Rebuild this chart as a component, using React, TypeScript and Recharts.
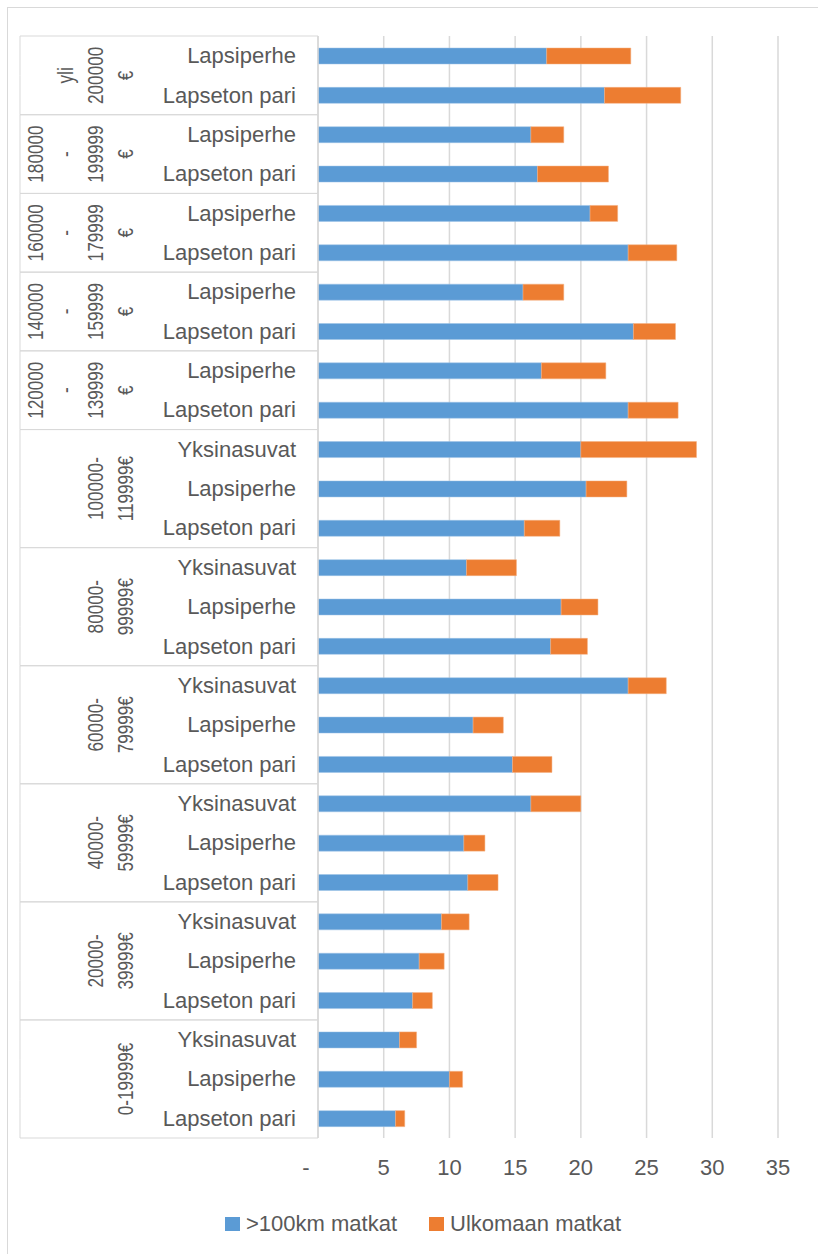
import React from 'react';
import { BarChart, Bar, XAxis, YAxis, CartesianGrid, Legend } from 'recharts';

// income groups, top to bottom, with the way the label wraps
const groupLines = [
  ['yli', '200000', '€'],
  ['180000', '-', '199999', '€'],
  ['160000', '-', '179999', '€'],
  ['140000', '-', '159999', '€'],
  ['120000', '-', '139999', '€'],
  ['100000-', '119999€'],
  ['80000-', '99999€'],
  ['60000-', '79999€'],
  ['40000-', '59999€'],
  ['20000-', '39999€'],
  ['0-19999€'],
];
const groupSizes = [2, 2, 2, 2, 2, 3, 3, 3, 3, 3, 3];

const subLabels = [
  'Lapsiperhe', 'Lapseton pari',
  'Lapsiperhe', 'Lapseton pari',
  'Lapsiperhe', 'Lapseton pari',
  'Lapsiperhe', 'Lapseton pari',
  'Lapsiperhe', 'Lapseton pari',
  'Yksinasuvat', 'Lapsiperhe', 'Lapseton pari',
  'Yksinasuvat', 'Lapsiperhe', 'Lapseton pari',
  'Yksinasuvat', 'Lapsiperhe', 'Lapseton pari',
  'Yksinasuvat', 'Lapsiperhe', 'Lapseton pari',
  'Yksinasuvat', 'Lapsiperhe', 'Lapseton pari',
  'Yksinasuvat', 'Lapsiperhe', 'Lapseton pari',
];

const longTrips = [
  17.4, 21.8, 16.2, 16.7, 20.7, 23.6, 15.6, 24.0, 17.0, 23.6,
  20.0, 20.4, 15.7, 11.3, 18.5, 17.7, 23.6, 11.8, 14.8,
  16.2, 11.1, 11.4, 9.4, 7.7, 7.2, 6.2, 10.0, 5.9,
];
const abroadTrips = [
  6.4, 5.8, 2.5, 5.4, 2.1, 3.7, 3.1, 3.2, 4.9, 3.8,
  8.8, 3.1, 2.7, 3.8, 2.8, 2.8, 2.9, 2.3, 3.0,
  3.8, 1.6, 2.3, 2.1, 1.9, 1.5, 1.3, 1.0, 0.7,
];
const xTicks = [0, 5, 10, 15, 20, 25, 30, 35];

const BLUE = '#5B9BD5';
const ORANGE = '#ED7D31';
const TEXT = '#595959';
const LINE = '#d9d9d9';
const FONT = '"Liberation Sans", Arial, sans-serif';

const W = 810;
const H = 1246;
const MARGIN = { top: 28, right: 40, bottom: 15, left: 12 };
const Y_AXIS_W = 298;
const X_AXIS_H = 71;
const LEGEND_H = 30;
const PLOT_TOP = MARGIN.top;
const PLOT_BOTTOM = H - MARGIN.bottom - LEGEND_H - X_AXIS_H;

const data = subLabels.map((sub, i) => ({
  id: String(i),
  sub,
  long: longTrips[i],
  abroad: abroadTrips[i],
}));

const rowGroup: number[] = [];
const groupStart: number[] = [];
groupSizes.forEach((n, g) => {
  groupStart.push(rowGroup.length);
  for (let k = 0; k < n; k++) rowGroup.push(g);
});

const ROW = (PLOT_BOTTOM - PLOT_TOP) / data.length;

const CategoryTick = (props: any) => {
  const { x, y, payload } = props;
  const i = Number(payload.value);
  const g = rowGroup[i];
  const first = groupStart[g] === i;
  const last = groupStart[g] + groupSizes[g] - 1 === i;
  const cy = y + ((groupSizes[g] - 1) / 2) * ROW;
  const lines = groupLines[g];
  const left = MARGIN.left;
  return (
    <g>
      <text
        x={x - 22}
        y={y}
        textAnchor="end"
        dominantBaseline="central"
        fill={TEXT}
        fontSize={22}
        fontFamily={FONT}
      >
        {data[i].sub}
      </text>
      <line x1={left} x2={left} y1={y - ROW / 2} y2={y + ROW / 2} stroke={LINE} />
      {first && <line x1={left} x2={x} y1={y - ROW / 2} y2={y - ROW / 2} stroke={LINE} />}
      {last && <line x1={left} x2={x} y1={y + ROW / 2} y2={y + ROW / 2} stroke={LINE} />}
      {first &&
        lines.map((t, k) => {
          const lx = 117 - (lines.length - 1 - k) * 30;
          return (
            <text
              key={k}
              x={0}
              y={0}
              transform={`translate(${lx} ${cy}) rotate(-90) scale(0.78 1)`}
              textAnchor="middle"
              dominantBaseline="central"
              fill={TEXT}
              fontSize={22}
              fontFamily={FONT}
            >
              {t}
            </text>
          );
        })}
    </g>
  );
};

const ValueTick = (props: any) => {
  const { x, y, payload } = props;
  const v = payload.value;
  return (
    <text
      x={v === 0 ? x - 12 : x}
      y={y + 29}
      textAnchor="middle"
      dominantBaseline="central"
      fill={TEXT}
      fontSize={22}
      fontFamily={FONT}
    >
      {v === 0 ? '-' : v}
    </text>
  );
};

const LegendContent = () => (
  <div
    style={{
      display: 'flex',
      alignItems: 'center',
      height: LEGEND_H,
      paddingLeft: 217,
      fontFamily: FONT,
      fontSize: 22,
      color: TEXT,
    }}
  >
    <span style={{ width: 15, height: 14, background: BLUE, marginRight: 6, display: 'inline-block' }} />
    <span style={{ marginRight: 32 }}>&gt;100km matkat</span>
    <span style={{ width: 15, height: 14, background: ORANGE, marginRight: 6, display: 'inline-block' }} />
    <span>Ulkomaan matkat</span>
  </div>
);

export default function App() {
  return (
    <div
      style={{
        position: 'absolute',
        left: 7,
        top: 7,
        borderTop: `1px solid ${LINE}`,
        borderLeft: `1px solid ${LINE}`,
        background: '#fff',
      }}
    >
      <BarChart width={W} height={H} data={data} layout="vertical" margin={MARGIN} barSize={16}>
        <CartesianGrid horizontal={false} stroke={LINE} strokeWidth={1.5} />
        <XAxis
          type="number"
          domain={[0, 35]}
          ticks={xTicks}
          axisLine={false}
          tickLine={false}
          tickSize={0}
          tickMargin={0}
          height={X_AXIS_H}
          tick={<ValueTick />}
          interval={0}
        />
        <YAxis
          type="category"
          dataKey="id"
          width={Y_AXIS_W}
          axisLine={{ stroke: LINE, strokeWidth: 1.5 }}
          tickLine={false}
          tickSize={0}
          tickMargin={0}
          tick={<CategoryTick />}
          interval={0}
        />
        <Legend
          verticalAlign="bottom"
          height={LEGEND_H}
          wrapperStyle={{ left: 0, width: W }}
          content={<LegendContent />}
        />
        <Bar dataKey="long" stackId="a" fill={BLUE} stroke="#9dc3e6" strokeWidth={0.5} isAnimationActive={false} />
        <Bar dataKey="abroad" stackId="a" fill={ORANGE} stroke="#f4b183" strokeWidth={0.5} isAnimationActive={false} />
      </BarChart>
    </div>
  );
}
